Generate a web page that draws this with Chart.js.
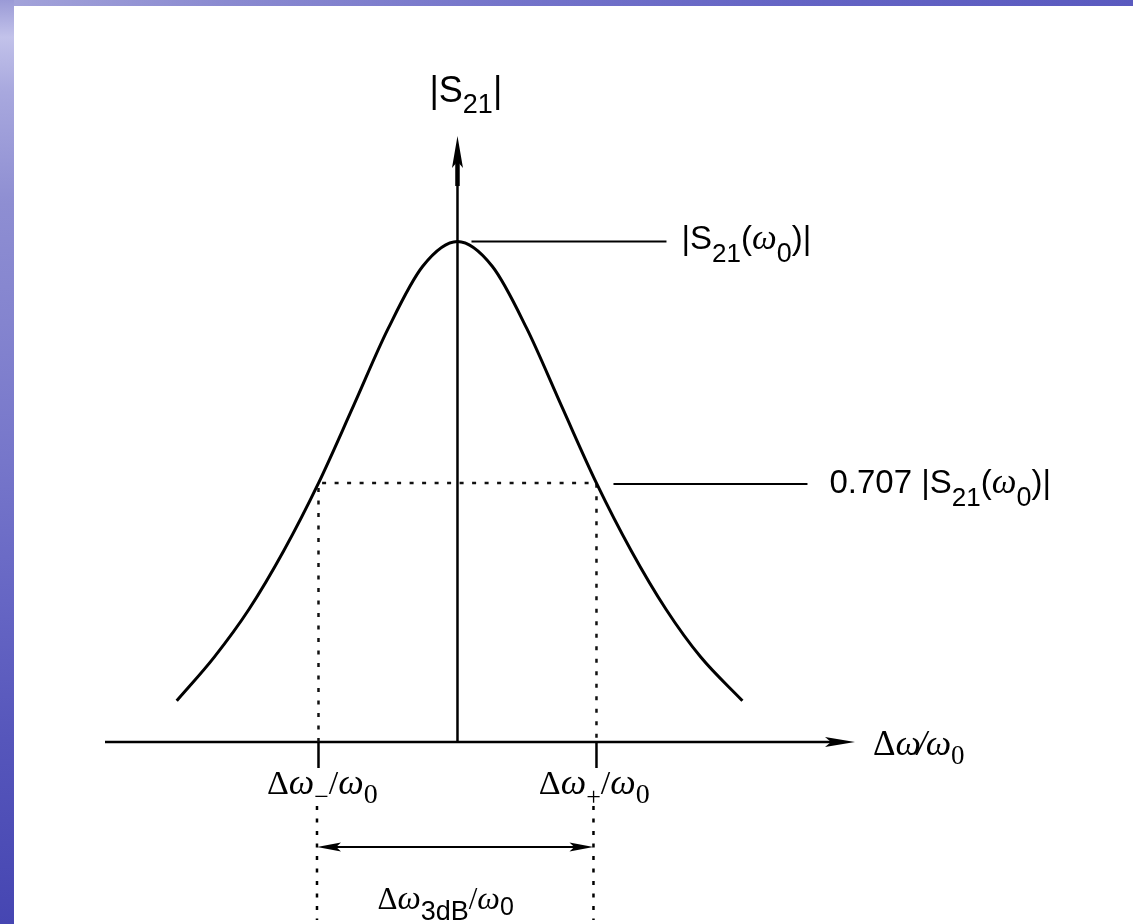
<!DOCTYPE html>
<html>
<head>
<meta charset="utf-8">
<title>|S21| resonance response</title>
<script src="https://cdn.jsdelivr.net/npm/chart.js@4.4.1/dist/chart.umd.min.js"></script>
<style>
  html, body { margin: 0; padding: 0; background: #ffffff; overflow: hidden; }
  #wrap { position: relative; width: 1133px; height: 924px; background: #ffffff; }
  #c { position: absolute; left: 0; top: 0; }
  #topband {
    position: absolute; left: 0; top: 0; width: 1133px; height: 6px;
    background: linear-gradient(90deg, #a4a4da 0%, #8a8ad0 20%, #7474ca 45%, #6464c4 70%, #5a5abf 100%);
  }
  #leftband {
    position: absolute; left: 0; top: 0; width: 14px; height: 924px;
    background: linear-gradient(180deg, #9a9ad6 0%, #c2c2ea 4%, #a8a8de 10%, #8e8ed2 22%, #8484cf 35%,
                #7676ca 50%, #6666c4 65%, #5656bb 80%, #4646b2 100%);
  }
</style>
</head>
<body>
<div id="wrap">
  <canvas id="c" width="1133" height="924"></canvas>
  <div id="topband"></div>
  <div id="leftband"></div>
</div>
<script>
// Normalised detuning Δω/ω0 (band edges at ±1) and |S21| relative to its peak
const detuning  = [-2.02, -1.75, -1.50, -1.25, -1.00, -0.75, -0.50, -0.25,
                    0.00,  0.25,  0.50,  0.75,  1.00,  1.25,  1.50,  1.75,  2.05];
const magnitude = [0.443, 0.496, 0.554, 0.625, 0.707, 0.800, 0.894, 0.970,
                   1.000, 0.970, 0.894, 0.800, 0.707, 0.625, 0.554, 0.496, 0.443];

const peakLevel = 1.0;          // |S21(ω0)|
const halfPowerLevel = 0.707;   // 0.707 |S21(ω0)|
const bandEdges = [-1, 1];      // Δω-/ω0 and Δω+/ω0

// Visible extent of the axes
const xRange = [-2.536, 2.86];
const yRange = [0.393, 1.128];

const SANS = '"Liberation Sans", Arial, Helvetica, sans-serif';
const SERIF = '"Liberation Serif", "Times New Roman", Times, serif';

function runWidth(ctx, runs) {
  let w = 0;
  runs.forEach(r => { ctx.font = r.f; w += ctx.measureText(r.t).width + (r.k || 0); });
  return w;
}
function drawRuns(ctx, runs, x, y) {
  let cx = x;
  runs.forEach(r => {
    ctx.font = r.f;
    ctx.fillText(r.t, cx, y + (r.dy || 0));
    cx += ctx.measureText(r.t).width + (r.k || 0);
  });
}

function arrowHead(ctx, tipX, tipY, dirX, dirY, len, half) {
  const px = -dirY, py = dirX;
  const bx = tipX - dirX * len, by = tipY - dirY * len;
  ctx.beginPath();
  ctx.moveTo(tipX, tipY);
  ctx.lineTo(bx + px * half, by + py * half);
  ctx.lineTo(tipX - dirX * len * 0.8, tipY - dirY * len * 0.8);
  ctx.lineTo(bx - px * half, by - py * half);
  ctx.closePath();
  ctx.fill();
}

const schematic = {
  id: 'schematic',
  beforeDatasetsDraw(chart) {
    const ctx = chart.ctx;
    const xs = chart.scales.x, ys = chart.scales.y;
    const x0 = xs.getPixelForValue(0);
    const xl = xs.getPixelForValue(xRange[0]);
    const xr = xs.getPixelForValue(xRange[1]);
    const base = ys.getPixelForValue(yRange[0]);
    const top = ys.getPixelForValue(yRange[1]);
    ctx.save();
    ctx.strokeStyle = '#000';
    ctx.fillStyle = '#000';
    ctx.lineCap = 'butt';

    // horizontal axis with arrow
    ctx.lineWidth = 2.5;
    ctx.beginPath(); ctx.moveTo(xl, base); ctx.lineTo(xr - 20, base); ctx.stroke();
    arrowHead(ctx, xr, base, 1, 0, 30, 5);

    // vertical axis with arrow
    ctx.beginPath(); ctx.moveTo(x0, base); ctx.lineTo(x0, top + 25); ctx.stroke();
    ctx.lineWidth = 4.5;
    ctx.beginPath(); ctx.moveTo(x0, top + 50); ctx.lineTo(x0, top + 25); ctx.stroke();
    arrowHead(ctx, x0, top, 0, -1, 32, 5.5);
    ctx.restore();
  },
  afterDatasetsDraw(chart) {
    const ctx = chart.ctx;
    const xs = chart.scales.x, ys = chart.scales.y;
    const x0 = xs.getPixelForValue(0);
    const base = ys.getPixelForValue(yRange[0]);
    const yPeak = ys.getPixelForValue(peakLevel);
    const yHalf = ys.getPixelForValue(halfPowerLevel);
    const eL = xs.getPixelForValue(bandEdges[0]);
    const eR = xs.getPixelForValue(bandEdges[1]);
    ctx.save();
    ctx.strokeStyle = '#000';
    ctx.fillStyle = '#000';
    ctx.textBaseline = 'alphabetic';
    ctx.textAlign = 'left';

    // tick marks at the band edges
    ctx.lineWidth = 2.5;
    [eL, eR].forEach(px => {
      ctx.beginPath(); ctx.moveTo(px, base); ctx.lineTo(px, base + 26); ctx.stroke();
    });

    // dotted continuation of band edges below the labels
    ctx.setLineDash([4, 8.5]);
    ctx.lineWidth = 2.5;
    [eL - 1.5, eR - 3].forEach(px => {
      ctx.beginPath(); ctx.moveTo(px, base + 64); ctx.lineTo(px, base + 178); ctx.stroke();
    });
    ctx.setLineDash([]);

    // 3 dB bandwidth double arrow
    const yb = base + 105;
    ctx.lineWidth = 2;
    ctx.beginPath(); ctx.moveTo(eL + 10, yb); ctx.lineTo(eR - 12, yb); ctx.stroke();
    arrowHead(ctx, eL - 1.5, yb, -1, 0, 24, 4.5);
    arrowHead(ctx, eR - 3, yb, 1, 0, 24, 4.5);

    // leader lines
    ctx.lineWidth = 2;
    ctx.beginPath(); ctx.moveTo(x0 + 14, yPeak); ctx.lineTo(x0 + 209, yPeak); ctx.stroke();
    ctx.beginPath(); ctx.moveTo(eR + 17, yHalf + 1); ctx.lineTo(eR + 211, yHalf + 1); ctx.stroke();

    // vertical axis title |S21|
    drawRuns(ctx, [
      { t: '|S', f: `36px ${SANS}` },
      { t: '21', f: `27px ${SANS}`, dy: 11 },
      { t: '|', f: `36px ${SANS}` }
    ], x0 - 28, 102);

    // |S21(ω0)|
    const s21w0 = [
      { t: '(', f: `33px ${SANS}` },
      { t: 'ω', f: `italic 35px ${SERIF}` },
      { t: '0', f: `27px ${SANS}`, dy: 13 },
      { t: ')|', f: `33px ${SANS}` }
    ];
    drawRuns(ctx, [
      { t: '|S', f: `33px ${SANS}` },
      { t: '21', f: `26px ${SANS}`, dy: 13 }
    ].concat(s21w0), x0 + 224, yPeak + 7);

    // 0.707 |S21(ω0)|
    drawRuns(ctx, [
      { t: '0.707 |S', f: `33px ${SANS}` },
      { t: '21', f: `26px ${SANS}`, dy: 13 }
    ].concat(s21w0), eR + 233, yHalf + 10);

    // horizontal axis title Δω/ω0
    drawRuns(ctx, [
      { t: 'Δ', f: `35px ${SERIF}` },
      { t: 'ω', f: `italic 36px ${SERIF}`, k: -4 },
      { t: '/', f: `italic 35px ${SERIF}`, k: -1 },
      { t: 'ω', f: `italic 36px ${SERIF}` },
      { t: '0', f: `27px ${SERIF}`, dy: 9 }
    ], xs.getPixelForValue(xRange[1]) + 18, base + 13);

    // band edge labels, subscript sitting under the tick
    function edgeLabel(px, sign) {
      const head = [
        { t: 'Δ', f: `34px ${SERIF}` },
        { t: 'ω', f: `italic 36px ${SERIF}` }
      ];
      const sub = { t: sign, f: `26px ${SERIF}`, dy: 11 };
      const tail = [
        { t: '/', f: `34px ${SERIF}` },
        { t: 'ω', f: `italic 36px ${SERIF}` },
        { t: '0', f: `28px ${SERIF}`, dy: 9 }
      ];
      const hw = runWidth(ctx, head);
      const sw = runWidth(ctx, [sub]);
      drawRuns(ctx, head.concat([sub], tail), px - hw - sw / 2, base + 52);
    }
    edgeLabel(eL + 3, '−');
    edgeLabel(eR - 3, '+');

    // 3 dB bandwidth label
    drawRuns(ctx, [
      { t: 'Δ', f: `31px ${SERIF}` },
      { t: 'ω', f: `italic 33px ${SERIF}` },
      { t: '3dB', f: `27px ${SANS}`, dy: 11 },
      { t: '/', f: `31px ${SERIF}` },
      { t: 'ω', f: `italic 32px ${SERIF}` },
      { t: '0', f: `25px ${SANS}`, dy: 6 }
    ], (eL + eR) / 2 - 80, base + 167);

    ctx.restore();
  }
};

new Chart(document.getElementById('c'), {
  type: 'line',
  data: {
    datasets: [
      {
        label: '|S21|',
        data: detuning.map((d, i) => ({ x: d, y: magnitude[i] })),
        borderColor: '#000000',
        borderWidth: 3,
        pointRadius: 0,
        cubicInterpolationMode: 'monotone',
        fill: false,
        clip: false
      },
      {
        label: 'half-power',
        data: [
          { x: bandEdges[0], y: yRange[0] },
          { x: bandEdges[0], y: halfPowerLevel },
          { x: bandEdges[1], y: halfPowerLevel },
          { x: bandEdges[1], y: yRange[0] }
        ],
        borderColor: '#111111',
        borderWidth: 2.5,
        borderDash: [4, 8.5],
        pointRadius: 0,
        tension: 0,
        fill: false,
        clip: false
      }
    ]
  },
  options: {
    responsive: false,
    animation: false,
    devicePixelRatio: 1,
    layout: { padding: { left: 105, right: 278, top: 136, bottom: 182 } },
    plugins: { legend: { display: false }, tooltip: { enabled: false } },
    scales: {
      x: { type: 'linear', min: xRange[0], max: xRange[1], display: false },
      y: { type: 'linear', min: yRange[0], max: yRange[1], display: false }
    }
  },
  plugins: [schematic]
});
</script>
</body>
</html>
